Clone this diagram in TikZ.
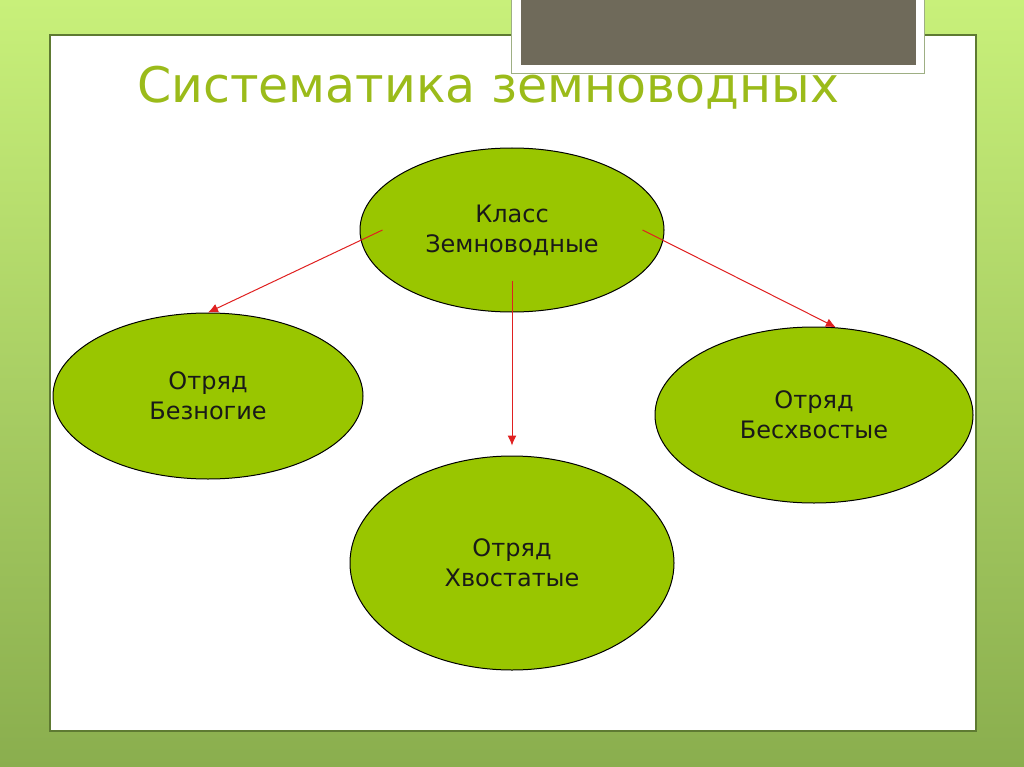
\documentclass[tikz,border=0pt]{standalone}
\usepackage{fontspec}
\setmainfont{DejaVu Sans}
\usepackage{xcolor}
\usetikzlibrary{arrows.meta, shapes}
\usetikzlibrary{calc}
\definecolor{bgtop}{RGB}{200,240,122}
\definecolor{bgbottom}{RGB}{138,174,78}
\definecolor{leaf}{RGB}{153,198,0}
\definecolor{titlegreen}{RGB}{155,187,26}
\definecolor{slate}{RGB}{111,106,90}
\definecolor{rim}{RGB}{94,122,50}
\definecolor{arrowred}{RGB}{224,32,32}

\begin{document}
\begin{tikzpicture}[x=1pt,y=-1pt,
		arr/.style={-{Latex[length=10pt,width=9pt]},draw=arrowred,line width=1pt},
		font=\fontsize{24}{30}\selectfont]
		\tikzstyle{every taxon}=[ellipse,fill=leaf,draw=black,line width=1pt,
			text=black!90,inner sep=0pt,align=center]
		
		\useasboundingbox (0,0) rectangle (1024,767);
		% backdrop
		\shade[top color=bgtop,bottom color=bgbottom] (0,0) rectangle (1024,767);
		\fill[white] (50,35) rectangle (976,731);
		\draw[rim,line width=1.2pt] (50,35) rectangle (976,731);
		\fill[white] (511,-2) rectangle (924,74);
		\draw[rim!60,line width=1pt] (511,-2) rectangle (924,74);
		\fill[slate] (521,-2) rectangle (916,65);
		
		\node[anchor=base west,text=titlegreen,inner sep=0pt,
			font=\fontsize{49}{60}\selectfont] (title) at (137,103) {Систематика земноводных};
		
		\node[every taxon,minimum width=304pt,minimum height=164pt] (klass) at (512,230) {Класс\\Земноводные};
		\node[every taxon,minimum width=310pt,minimum height=166pt] (bez) at (208,396) {Отряд\\Безногие};
		\node[every taxon,minimum width=318pt,minimum height=176pt] (bes) at (814,415) {Отряд\\Бесхвостые};
		\node[every taxon,minimum width=324pt,minimum height=214pt] (hvost) at (512,563) {Отряд\\Хвостатые};
		
		\draw[arr] ($(klass.west)+(23,0)$) -- (bez.north);
		\draw[arr,shorten >=10pt] ($(klass.south)+(0,-32)$) -- (hvost.north);
		\draw[arr] ($(klass.east)+(-22,0)$) -- (bes.76);
		\end{tikzpicture}
\end{document}
